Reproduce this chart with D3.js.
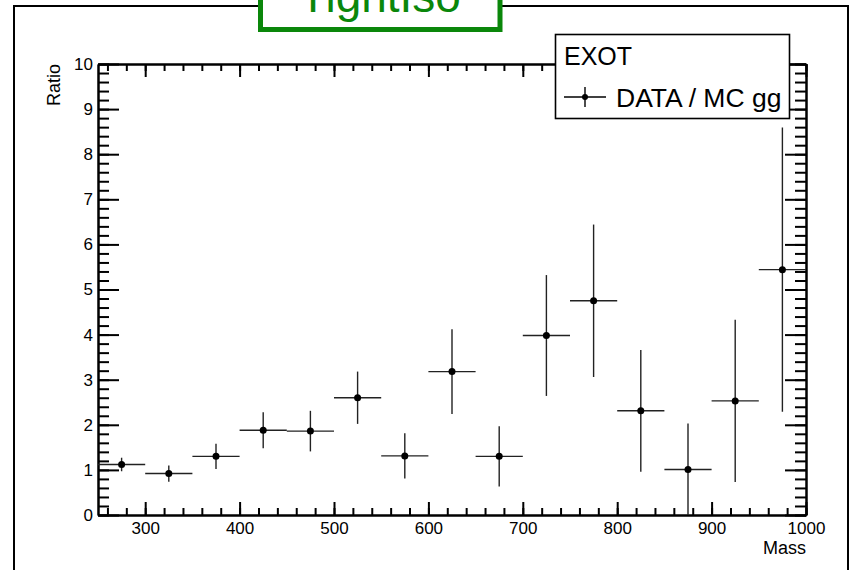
<!DOCTYPE html>
<html lang="en">
<head>
    <meta charset="UTF-8">
    <title>Ratio vs Mass</title>
    <style type="text/css">
        body { margin:0; background:#fff }
        svg text { font-family: "Liberation Sans", Arial, sans-serif }
    </style>
</head>
<body>
<script src="https://d3js.org/d3.v7.min.js"></script>
<script>
    // bin centres (Mass), ratio values and their errors
    var massBins = [275, 325, 375, 425, 475, 525, 575, 625, 675, 725, 775, 825, 875, 925, 975];
    var ratio    = [1.12, 0.92, 1.30, 1.88, 1.86, 2.60, 1.31, 3.18, 1.30, 3.98, 4.75, 2.31, 1.01, 2.53, 5.44];
    var ratioErr = [0.15, 0.18, 0.28, 0.40, 0.45, 0.58, 0.50, 0.94, 0.67, 1.34, 1.69, 1.35, 1.02, 1.80, 3.15];
    var binHalf  = 25;

    var xTicks = [300, 400, 500, 600, 700, 800, 900, 1000];
    var yTicks = [0, 1, 2, 3, 4, 5, 6, 7, 8, 9, 10];

    var width = 853, height = 570,
        plotL = 98, plotR = 806, plotT = 64, plotB = 515,
        svg = d3.select('body').append('svg')
                .attr('width', width)
                .attr('height', height);

    var xScale = d3.scaleLinear().domain([250, 1000]).range([plotL, plotR]),
        yScale = d3.scaleLinear().domain([0, 10]).range([plotB, plotT]);

    // outer canvas frame
    svg.append('rect')
        .attr('x', 14).attr('y', 6)
        .attr('width', 834).attr('height', 600)
        .attr('fill', 'none').attr('stroke', '#000').attr('stroke-width', 2);

    function styleAxis(g) {
        g.select('.domain').attr('stroke', '#000').attr('stroke-width', 2);
        g.selectAll('.tick line').attr('stroke', '#000').attr('stroke-width', 2);
        g.selectAll('text').attr('fill', '#000').attr('font-size', 17)
            .attr('font-family', '"Liberation Sans", Arial, sans-serif');
    }

    var xMinor = d3.range(260, 1001, 20),
        yMinor = d3.range(0, 10.01, 0.2);

    // bottom axis
    svg.append('g').attr('transform', 'translate(0,' + plotB + ')')
        .call(d3.axisBottom(xScale).tickValues(xMinor).tickSize(-7).tickSizeOuter(0).tickFormat(''))
        .call(styleAxis);
    svg.append('g').attr('transform', 'translate(0,' + plotB + ')')
        .call(d3.axisBottom(xScale).tickValues(xTicks).tickSize(-13).tickSizeOuter(0)
              .tickPadding(7).tickFormat(d3.format('d')))
        .call(styleAxis);
    // top axis
    svg.append('g').attr('transform', 'translate(0,' + plotT + ')')
        .call(d3.axisTop(xScale).tickValues(xMinor).tickSize(-7).tickSizeOuter(0).tickFormat(''))
        .call(styleAxis);
    svg.append('g').attr('transform', 'translate(0,' + plotT + ')')
        .call(d3.axisTop(xScale).tickValues(xTicks).tickSize(-13).tickSizeOuter(0).tickFormat(''))
        .call(styleAxis);
    // left axis
    svg.append('g').attr('transform', 'translate(' + plotL + ',0)')
        .call(d3.axisLeft(yScale).tickValues(yMinor).tickSize(-11).tickSizeOuter(0).tickFormat(''))
        .call(styleAxis);
    svg.append('g').attr('transform', 'translate(' + plotL + ',0)')
        .call(d3.axisLeft(yScale).tickValues(yTicks).tickSize(-21).tickSizeOuter(0).tickPadding(5))
        .call(styleAxis);
    // right axis
    svg.append('g').attr('transform', 'translate(' + plotR + ',0)')
        .call(d3.axisRight(yScale).tickValues(yMinor).tickSize(-11).tickSizeOuter(0).tickFormat(''))
        .call(styleAxis);
    svg.append('g').attr('transform', 'translate(' + plotR + ',0)')
        .call(d3.axisRight(yScale).tickValues(yTicks).tickSize(-21).tickSizeOuter(0).tickFormat(''))
        .call(styleAxis);

    // axis titles
    svg.append('text')
        .attr('x', plotR).attr('y', 554)
        .attr('text-anchor', 'end').attr('font-size', 18)
        .text('Mass');
    svg.append('text')
        .attr('transform', 'translate(60,' + plotT + ') rotate(-90)')
        .attr('text-anchor', 'end').attr('font-size', 18)
        .text('Ratio');

    // data points with error bars
    var pts = svg.append('g').selectAll('g')
        .data(massBins)
        .enter().append('g');

    pts.append('line')
        .attr('x1', function(d){ return xScale(d - binHalf); })
        .attr('x2', function(d){ return xScale(d + binHalf); })
        .attr('y1', function(d, i){ return yScale(ratio[i]); })
        .attr('y2', function(d, i){ return yScale(ratio[i]); })
        .attr('stroke', '#222').attr('stroke-width', 1.4);

    pts.append('line')
        .attr('x1', function(d){ return xScale(d); })
        .attr('x2', function(d){ return xScale(d); })
        .attr('y1', function(d, i){ return yScale(Math.max(0, ratio[i] - ratioErr[i])); })
        .attr('y2', function(d, i){ return yScale(Math.min(10, ratio[i] + ratioErr[i])); })
        .attr('stroke', '#222').attr('stroke-width', 1.4);

    pts.append('circle')
        .attr('cx', function(d){ return xScale(d); })
        .attr('cy', function(d, i){ return yScale(ratio[i]); })
        .attr('r', 3.5)
        .attr('fill', '#000');

    // legend
    var leg = svg.append('g');
    leg.append('rect')
        .attr('x', 555.5).attr('y', 34.5).attr('width', 234).attr('height', 84)
        .attr('fill', '#fff').attr('stroke', '#000').attr('stroke-width', 1.6);
    leg.append('text').attr('x', 564).attr('y', 65).attr('font-size', 25).text('EXOT');
    leg.append('line').attr('x1', 564).attr('x2', 606).attr('y1', 97).attr('y2', 97)
        .attr('stroke', '#000').attr('stroke-width', 1.4);
    leg.append('line').attr('x1', 585).attr('x2', 585).attr('y1', 87).attr('y2', 107)
        .attr('stroke', '#000').attr('stroke-width', 1.4);
    leg.append('circle').attr('cx', 585).attr('cy', 97).attr('r', 3).attr('fill', '#000');
    leg.append('text').attr('x', 616).attr('y', 107).attr('font-size', 26.5).text('DATA / MC gg');

    // title box
    svg.append('rect')
        .attr('x', 260.5).attr('y', -20).attr('width', 239.5).attr('height', 49.5)
        .attr('fill', '#fff').attr('stroke', '#0a870a').attr('stroke-width', 5);
    svg.append('text')
        .attr('x', 380).attr('y', 12)
        .attr('text-anchor', 'middle').attr('font-size', 46)
        .attr('fill', '#0a870a')
        .text('TightIso');
</script>
</body>
</html>
